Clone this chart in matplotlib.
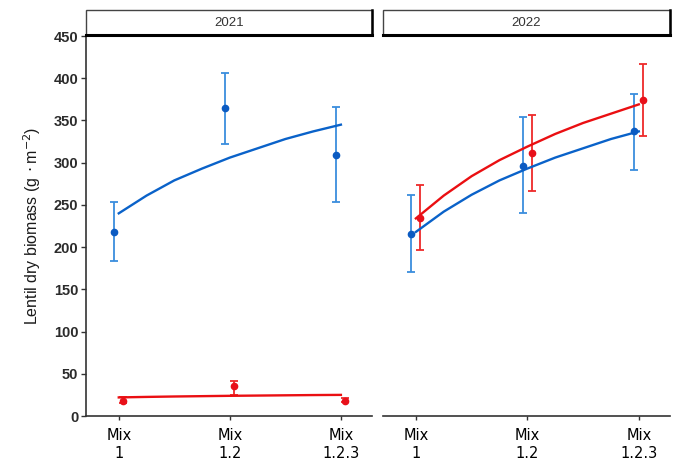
import matplotlib
matplotlib.use("Agg")
import matplotlib.pyplot as plt
from matplotlib.patches import Rectangle
from matplotlib.lines import Line2D
import numpy as np

# ---- data ----
mixes = ["Mix\n1", "Mix\n1.2", "Mix\n1.2.3"]
mix_pos = [1, 2, 3]
years = ["2021", "2022"]

# mean and error-bar limits per year, blue = lentil sole-ish series, red = other series
blue_mean = {"2021": [218, 365, 309], "2022": [216, 296, 337]}
blue_lo = {"2021": [183, 322, 254], "2022": [170, 240, 291]}
blue_hi = {"2021": [254, 406, 366], "2022": [262, 354, 381]}
red_mean = {"2021": [18, 35, 18], "2022": [234, 312, 374]}
red_lo = {"2021": [15, 25, 16], "2022": [196, 266, 331]}
red_hi = {"2021": [22, 42, 21], "2022": [274, 357, 417]}

# fitted curves
curve_x = [1, 1.25, 1.5, 1.75, 2, 2.25, 2.5, 2.75, 3]
blue_fit = {"2021": [240, 261, 279, 293, 306, 317, 328, 337, 345],
            "2022": [218, 242, 262, 279, 293, 306, 317, 328, 337]}
red_fit = {"2021": [22, 22.6, 23.1, 23.5, 23.9, 24.2, 24.5, 24.8, 25],
           "2022": [234, 261, 284, 303, 319, 334, 347, 358, 369]}

BLUE_PT = "#0b5bc2"
BLUE_EB = "#3a8ddd"
BLUE_LN = "#0a62c9"
RED_PT = "#e8101a"
RED_EB = "#ee2a2a"
RED_LN = "#ea0f12"
DODGE = 0.04

W, H = 676, 458
fig = plt.figure(figsize=(W / 100, H / 100), dpi=100)


def px_axes(x0, x1, ytop, ybot):
    return fig.add_axes([x0 / W, 1 - ybot / H, (x1 - x0) / W, (ybot - ytop) / H])


panels = [(86, 372), (383, 670)]
for i, yr in enumerate(years):
    x0, x1 = panels[i]
    ax = px_axes(x0, x1, 36, 416)
    ax.set_xlim(0.705, 3.28)
    ax.set_ylim(0, 450)
    ax.patch.set_alpha(0)
    for s in ["top", "right"]:
        ax.spines[s].set_visible(False)
    ax.spines["bottom"].set_color("#333333")
    ax.spines["bottom"].set_linewidth(1.2)
    ax.spines["left"].set_color("#333333")
    ax.spines["left"].set_linewidth(1.2)

    ax.set_xticks(mix_pos)
    ax.set_xticklabels(mixes, fontsize=10.5, family="DejaVu Sans", color="black",
                       linespacing=1.25)
    ax.tick_params(axis="x", length=3, width=1, color="#333333", pad=6)

    if i == 0:
        ax.set_yticks(np.arange(0, 451, 50))
        ax.tick_params(axis="y", length=3.5, width=1, color="#333333", pad=2,
                       labelsize=10.5, labelcolor="#2b2b2b")
        for lab in ax.get_yticklabels():
            lab.set_family("Liberation Sans")
            lab.set_fontweight("bold")
        ax.set_ylabel("Lentil dry biomass (g$\\,\\cdot$m$^{-2}$)", fontsize=11.5,
                      family="Liberation Sans", color="#1a1a1a", labelpad=8)
    else:
        ax.spines["left"].set_visible(False)
        ax.set_yticks([])

    bx = np.array(mix_pos) - DODGE
    rx = np.array(mix_pos) + DODGE
    bm = np.array(blue_mean[yr])
    rm = np.array(red_mean[yr])
    ax.errorbar(bx, bm, yerr=[bm - np.array(blue_lo[yr]), np.array(blue_hi[yr]) - bm],
                fmt="none", ecolor=BLUE_EB, elinewidth=1.3, capsize=3, capthick=1.3)
    ax.errorbar(rx, rm, yerr=[rm - np.array(red_lo[yr]), np.array(red_hi[yr]) - rm],
                fmt="none", ecolor=RED_EB, elinewidth=1.3, capsize=3, capthick=1.3)
    ax.plot(curve_x, blue_fit[yr], color=BLUE_LN, lw=1.7)
    ax.plot(curve_x, red_fit[yr], color=RED_LN, lw=1.7)
    ax.plot(bx, bm, "o", color=BLUE_PT, ms=4.5, zorder=5)
    ax.plot(rx, rm, "o", color=RED_PT, ms=4.5, zorder=5)

    # facet strip
    fig.patches.append(Rectangle((x0 / W, 1 - 35 / H), (x1 - x0) / W, 25 / H,
                                 transform=fig.transFigure, facecolor="white",
                                 edgecolor="#444444", lw=1.0))
    fig.lines.append(Line2D([x0 / W, x1 / W], [1 - 35 / H, 1 - 35 / H],
                            transform=fig.transFigure, color="black", lw=2.2))
    fig.lines.append(Line2D([x1 / W, x1 / W], [1 - 10 / H, 1 - 35 / H],
                            transform=fig.transFigure, color="black", lw=1.8))
    fig.text((x0 + x1) / 2 / W, 1 - 22.5 / H, yr, ha="center", va="center",
             fontsize=9.5, family="Liberation Sans", color="#333333")

fig.savefig("out.png", dpi=100)
